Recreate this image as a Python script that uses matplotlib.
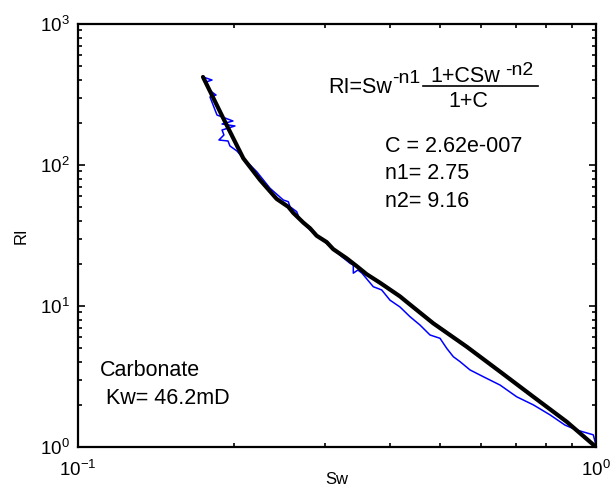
import matplotlib
matplotlib.use("Agg")
import matplotlib.pyplot as plt
from matplotlib.ticker import LogLocator, NullFormatter

plt.rcParams["font.family"] = ["Liberation Sans", "DejaVu Sans"]

# measured resistivity index (blue trace)
sw_meas = [0.1743, 0.1814, 0.1767, 0.1790, 0.1847, 0.1798, 0.1823, 0.1855,
           0.1991, 0.1897, 0.2009, 0.1897, 0.1913, 0.1871, 0.1948, 0.1965,
           0.2027, 0.2083, 0.2213, 0.2348, 0.2490, 0.2547, 0.2566, 0.2643,
           0.2683, 0.2805, 0.3020, 0.3229, 0.3350, 0.3400, 0.3400, 0.3470,
           0.3533, 0.3716, 0.3857, 0.4002, 0.4184, 0.4374, 0.4573, 0.4781,
           0.4999, 0.5150, 0.5303, 0.5464, 0.5712, 0.6061, 0.6528, 0.7030,
           0.7568, 0.8152, 0.8713, 0.9177, 0.9880, 0.9960, 1.0]
ri_meas = [421, 400.6, 387.9, 340.3, 313.6, 303.6, 266.4, 226.2,
           205.2, 195.3, 189.1, 177.1, 163.3, 150.4, 148.0, 136.4,
           125.7, 112.1, 89.7, 68.4, 56.5, 54.9, 50.6, 46.7,
           40.7, 34.6, 27.8, 22.4, 20.1, 19.5, 17.1, 18.0,
           17.1, 13.7, 13.0, 11.0, 9.84, 8.40, 7.33, 6.23,
           5.90, 5.01, 4.37, 4.03, 3.52, 3.15, 2.75, 2.27,
           1.99, 1.69, 1.43, 1.32, 1.22, 1.09, 1.0]

# fitted curve (black)
sw_fit = [0.1743, 0.1908, 0.2085, 0.2246, 0.2418, 0.2547, 0.2603, 0.2723,
          0.2805, 0.2889, 0.3020, 0.3110, 0.3300, 0.3450, 0.3608, 0.3830,
          0.4184, 0.4310, 0.4850, 0.5630, 0.6530, 0.7570, 0.8780, 1.0]
ri_fit = [421, 214, 111.6, 78.3, 57.5, 50.5, 45.8, 39.0,
          35.6, 31.5, 28.4, 25.3, 21.8, 19.2, 16.8, 14.6,
          11.7, 10.7, 7.54, 5.14, 3.42, 2.27, 1.51, 1.0]

params = ["C = 2.62e-007", "n1= 2.75", "n2= 9.16"]
sample = ["Carbonate", " Kw= 46.2mD"]

fig = plt.figure(figsize=(6.13, 4.93), dpi=100)
ax = fig.add_axes([78 / 613, 1 - 447 / 493, 518 / 613, 423 / 493])

ax.plot(sw_meas, ri_meas, color="#0000ff", lw=1.1)
ax.plot(sw_fit, ri_fit, color="black", lw=3, solid_capstyle="round")

ax.set_xscale("log")
ax.set_yscale("log")
ax.set_xlim(0.1, 1)
ax.set_ylim(1, 1000)
ax.xaxis.set_minor_locator(LogLocator(subs=range(2, 10)))
ax.yaxis.set_minor_locator(LogLocator(subs=range(2, 10)))
ax.xaxis.set_minor_formatter(NullFormatter())
ax.yaxis.set_minor_formatter(NullFormatter())

ax.tick_params(which="both", direction="in", top=True, right=True,
               labelsize=13.5, width=1.2)
ax.tick_params(which="major", length=5)
ax.tick_params(which="minor", length=3)
ax.tick_params(axis="x", which="major", pad=9)
ax.tick_params(axis="y", which="major", pad=6)
for s in ax.spines.values():
    s.set_linewidth(1.6)

ax.set_xlabel("Sw", fontsize=12)
ax.xaxis.set_label_coords(0.5, -0.06)
ax.set_ylabel("RI", fontsize=12, labelpad=8)

# formula, built piece by piece in axes fractions
def fx(px):
    return (px - 78) / 518

def fy(py):
    return (447 - py) / 423

tr = ax.transAxes
fs = 15.5
ax.text(fx(328), fy(93), "RI=Sw", fontsize=fs, transform=tr, va="baseline")
ax.text(fx(392), fy(83), "-n1", fontsize=14, transform=tr, va="baseline")
ax.text(fx(430), fy(82), "1+CSw", fontsize=fs, transform=tr, va="baseline")
ax.text(fx(505), fy(75), "-n2", fontsize=14, transform=tr, va="baseline")
ax.text(fx(448), fy(107), "1+C", fontsize=fs, transform=tr, va="baseline")
ax.plot([fx(423), fx(538)], [fy(86), fy(86)], color="black", lw=1.2,
        transform=tr)

for i, t in enumerate(params):
    ax.text(fx(385), fy(152 + 27.3 * i), t, fontsize=fs, transform=tr,
            va="baseline")

ax.text(fx(100), fy(376), sample[0], fontsize=fs, transform=tr, va="baseline")
ax.text(fx(100), fy(404), sample[1], fontsize=fs, transform=tr, va="baseline")

fig.savefig("out.png", dpi=100)
